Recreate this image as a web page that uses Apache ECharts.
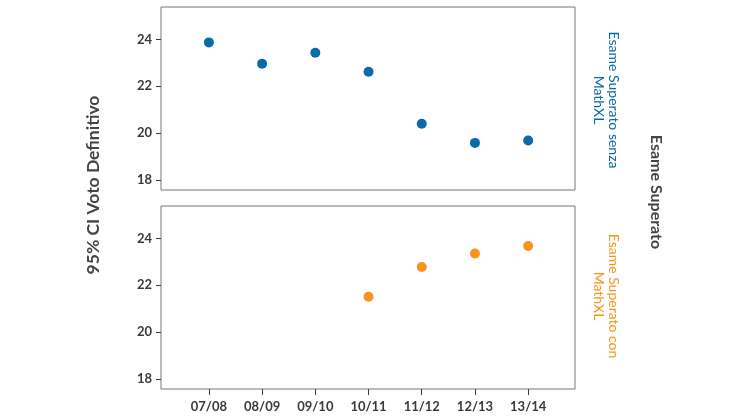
<!DOCTYPE html>
<html>
<head>
<meta charset="utf-8">
<script src="https://cdn.jsdelivr.net/npm/echarts@6/dist/echarts.min.js"></script>
<style>
html,body{margin:0;padding:0;background:#fff;}
#chart{width:750px;height:420px;}
</style>
</head>
<body>
<div id="chart"></div>
<script>
var categories = ['07/08','08/09','09/10','10/11','11/12','12/13','13/14'];
var senzaValues = [23.87, 22.96, 23.43, 22.62, 20.40, 19.58, 19.68];
var conValues = [null, null, null, 21.51, 22.78, 23.35, 23.67];
var yTicks = [18, 20, 22, 24];
var stripTop = 'Esame Superato senza\nMathXL';
var stripBottom = 'Esame Superato con\nMathXL';
var rightTitle = 'Esame Superato';
var leftTitle = '95% CI Voto Definitivo';

var blue = '#0b6aa8', orange = '#f7941d', txt = '#3a3a3a';
var font = 'Lato, "Open Sans", sans-serif';

function pts(vals){
  var out = [];
  vals.forEach(function(v,i){ if (v !== null) out.push([i, v]); });
  return out;
}
var xIdx = categories.map(function(c,i){return i;});

function xAxis(gi, showLabels){
  return {
    type:'value', gridIndex: gi, min:-0.9, max:6.88, position:'bottom',
    splitLine:{show:false}, axisLine:{show:false, onZero:false},
    axisTick:{show:showLabels, inside:false, customValues:xIdx, length:6, lineStyle:{color:txt}},
    axisLabel:{show:showLabels, customValues:xIdx, margin:11, color:txt, fontFamily:font, fontWeight:'bold', fontSize:13,
      formatter:function(v){ return categories[Math.round(v)]; }}
  };
}
function yAxis(gi){
  return {
    type:'value', gridIndex: gi, min:17.57, max:25.38, position:'left',
    splitLine:{show:false}, axisLine:{show:false, onZero:false},
    axisTick:{show:true, inside:false, customValues:yTicks, length:5, lineStyle:{color:txt}},
    axisLabel:{customValues:yTicks, margin:9, color:txt, fontFamily:font, fontWeight:'bold', fontSize:13}
  };
}

var chart = echarts.init(document.getElementById('chart'), null, {renderer:'canvas'});
chart.setOption({
  animation:false,
  backgroundColor:'#fff',
  grid:[
    {left:161, top:7, width:414, height:183, show:true, borderColor:'#777', borderWidth:1, backgroundColor:'transparent'},
    {left:161, top:206, width:414, height:183, show:true, borderColor:'#777', borderWidth:1, backgroundColor:'transparent'}
  ],
  xAxis:[xAxis(0,false), xAxis(1,true)],
  yAxis:[yAxis(0), yAxis(1)],
  series:[
    {type:'scatter', xAxisIndex:0, yAxisIndex:0, data:pts(senzaValues), symbolSize:10, itemStyle:{color:blue, opacity:1}},
    {type:'scatter', xAxisIndex:1, yAxisIndex:1, data:pts(conValues), symbolSize:10, itemStyle:{color:orange, opacity:1}}
  ],
  graphic:[
    {type:'text', x:93, y:185, rotation:Math.PI/2,
      style:{text:leftTitle, fill:'#444', font:'bold 17.5px '+font, align:'center', verticalAlign:'middle'}},
    {type:'text', x:656, y:192, rotation:-Math.PI/2,
      style:{text:rightTitle, fill:'#444', font:'bold 16px '+font, align:'center', verticalAlign:'middle'}},
    {type:'text', x:606, y:100, rotation:-Math.PI/2,
      style:{text:stripTop, fill:blue, font:'14px '+font, align:'center', verticalAlign:'middle', lineHeight:15}},
    {type:'text', x:606, y:296, rotation:-Math.PI/2,
      style:{text:stripBottom, fill:orange, font:'14px '+font, align:'center', verticalAlign:'middle', lineHeight:15}}
  ]
});
</script>
</body>
</html>
